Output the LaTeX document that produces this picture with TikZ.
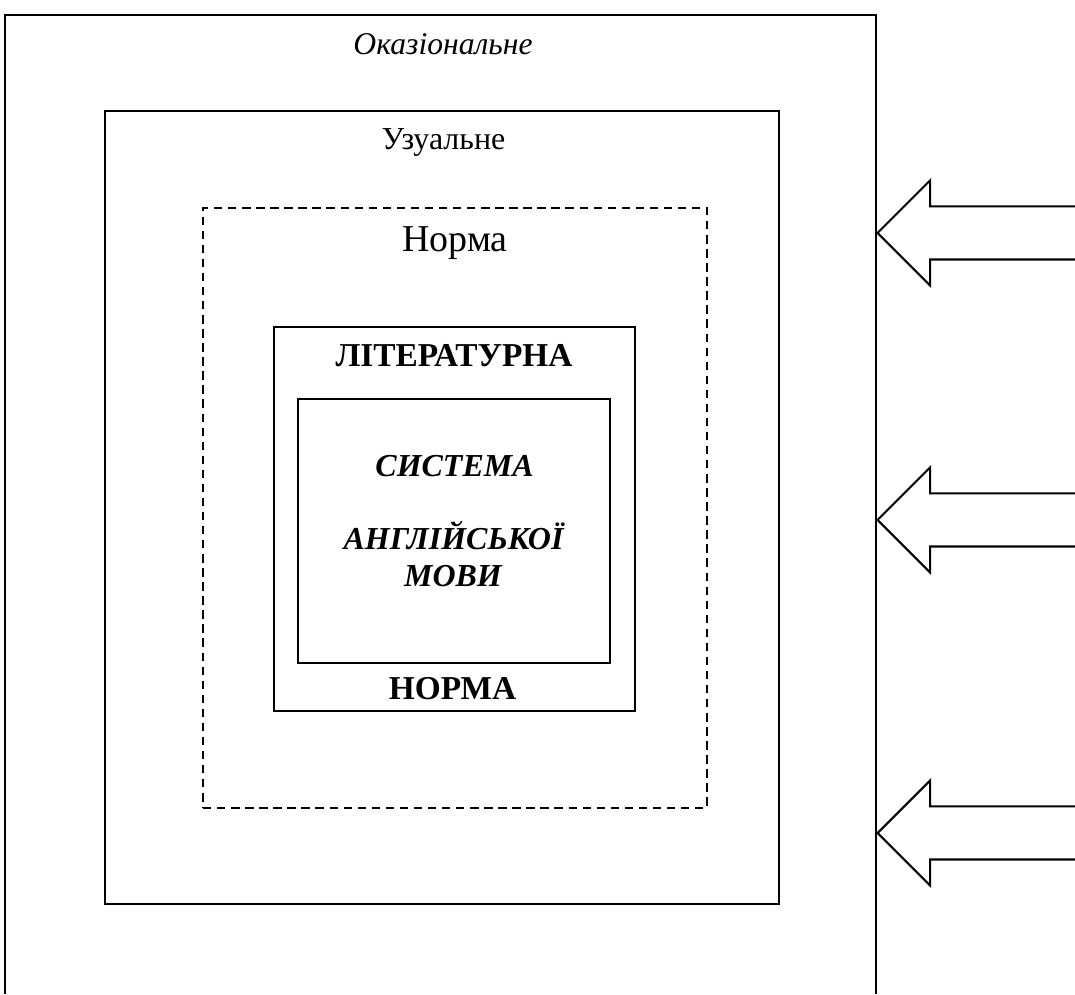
\documentclass[tikz,border=0pt]{standalone}
\usepackage{fontspec}
\setmainfont{Liberation Serif}
\usetikzlibrary{positioning, shapes.arrows}
\tikzset{
    frame/.style={
        rectangle,
        draw=black,
        line width=0.6pt,
        inner sep=0pt
    },
    normframe/.style={
        frame,
        dash pattern=on 2.4pt off 1.6pt
    },
    inflow/.style={
        single arrow,
        draw=black,
        line width=0.6pt,
        shape border rotate=180,
        single arrow tip angle=90,
        single arrow head indent=0pt,
        single arrow head extend=0.26cm,
        inner xsep=0pt,
        inner ysep=0.255cm,
        minimum height=2.1cm,
        anchor=tip
    },
    levellabel/.style={
        inner sep=0pt,
        anchor=base
    }
}
\begin{document}
\begin{tikzpicture}

\useasboundingbox (0,0) rectangle (10.75,9.94);

% occasional level: open frame running off the page
\coordinate (occbl) at (0.05,0);
\coordinate (occtl) at (0.05,9.79);
\coordinate (occtr) at (8.76,9.79);
\coordinate (occbr) at (8.76,0);
\draw[line width=0.6pt] (occbl) -- (occtl) -- (occtr) -- (occbr);

\node[frame, minimum width=6.74cm, minimum height=7.93cm] (usual) at (4.42,4.865) {};
\node[normframe, minimum width=5.04cm, minimum height=6.00cm] (norm) at (4.55,4.86) {};
\node[frame, minimum width=3.61cm, minimum height=3.84cm] (literary) at (4.545,4.75) {};
\node[frame, minimum width=3.12cm, minimum height=2.64cm] (system) at (4.54,4.63) {};

\node[levellabel, font=\itshape\fontsize{9}{11}\selectfont] (occlabel) at (4.43,9.39) {Оказіональне};
\node[levellabel, font=\fontsize{9.1}{11}\selectfont] (usuallabel) at (4.435,8.44) {Узуальне};
\node[levellabel, font=\fontsize{10.8}{13}\selectfont] (normlabel) at (4.55,7.42) {Норма};
\node[levellabel, font=\bfseries\fontsize{9.5}{11}\selectfont] (littop) at (4.54,6.27) {ЛІТЕРАТУРНА};
\node[levellabel, font=\bfseries\fontsize{9.5}{11}\selectfont] (litbottom) at (4.525,2.94) {НОРМА};
\node[levellabel, font=\bfseries\itshape\fontsize{9.1}{10}\selectfont] (syslabel) at (4.545,5.17) {СИСТЕМА};
\node[levellabel, font=\bfseries\itshape\fontsize{9.1}{10}\selectfont] (englabel) at (4.535,4.44) {АНГЛІЙСЬКОЇ};
\node[levellabel, font=\bfseries\itshape\fontsize{9.1}{10}\selectfont] (langlabel) at (4.53,4.07) {МОВИ};

% inflows from the right
\node[inflow] (inflowa) at (occtr |- 0,7.61) {};
\node[inflow] (inflowb) at (occtr |- 0,4.74) {};
\node[inflow] (inflowc) at (occtr |- 0,1.61) {};

\end{tikzpicture}
\end{document}
